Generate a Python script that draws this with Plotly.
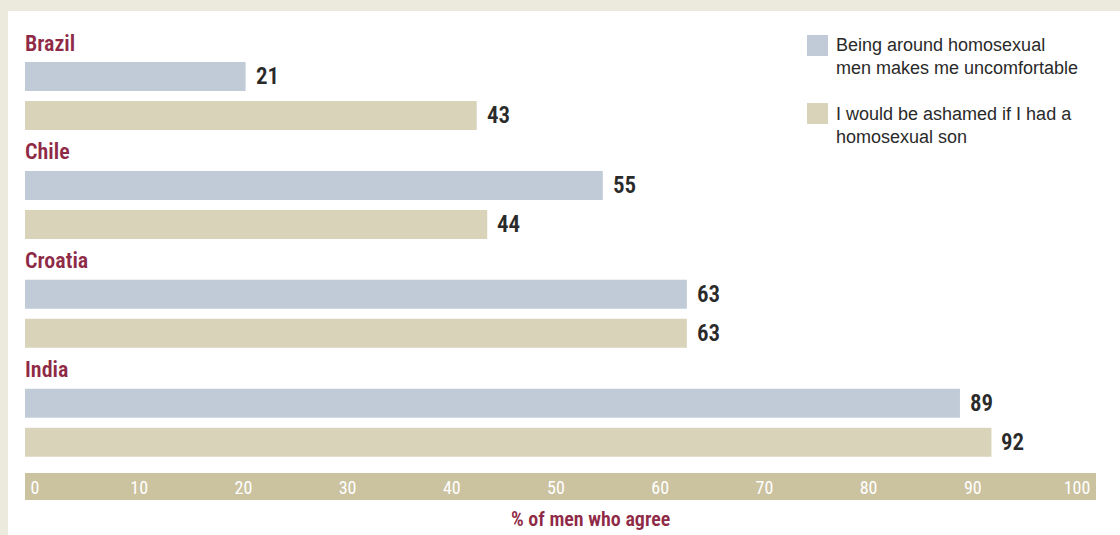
import plotly.graph_objects as go

# Survey data: share of men who agree with each statement (%)
countries = ["Brazil", "Chile", "Croatia", "India"]
uncomfortable = [21, 55, 63, 89]
ashamed_son = [43, 44, 63, 92]
series_names = [
    "Being around homosexual<br>men makes me uncomfortable",
    "I would be ashamed if I had a<br>homosexual son",
]
tick_values = [0, 10, 20, 30, 40, 50, 60, 70, 80, 90, 100]
axis_title = "% of men who agree"

# Styling
W, H = 1120, 535
ML, MR, MT, MB = 25, 24, 30, 62
PW, PH = W - ML - MR, H - MT - MB
CREAM = "#ECE9DD"
BLUE = "#C0CBD7"
TAN = "#D9D3BA"
BAND = "#CBC2A0"
RED = "#8F2A46"
INK = "#2A2A2A"
COND = "Roboto Condensed, Open Sans Condensed, sans-serif"
SANS = "Liberation Sans, Arial, Helvetica, sans-serif"


def px_x(p):
    return (p - ML) / PW


def px_y(p):
    return (H - MB - p) / PH


fig = go.Figure()
fig.add_trace(go.Bar(y=countries, x=uncomfortable, orientation="h",
                     marker=dict(color=BLUE, line=dict(width=0)),
                     name=series_names[0], hoverinfo="x+y"))
fig.add_trace(go.Bar(y=countries, x=ashamed_son, orientation="h",
                     marker=dict(color=TAN, line=dict(width=0)),
                     name=series_names[1], hoverinfo="x+y"))
# invisible trace that carries the tick-label scale of the bottom band
fig.add_trace(go.Scatter(x=[tick_values[0], tick_values[-1]], y=[countries[0], countries[0]],
                         xaxis="x2", mode="markers", marker=dict(opacity=0),
                         showlegend=False, hoverinfo="skip"))

annotations = []
# country headings
for c in countries:
    annotations.append(dict(x=0, y=c, xref="x", yref="y", text=c, showarrow=False,
                            xanchor="left", yanchor="middle", xshift=-2, yshift=53,
                            font=dict(family=COND, size=22, color=RED, weight=600)))
# value labels
for vals, shift in ((uncomfortable, 19.5), (ashamed_son, -19.5)):
    for c, v in zip(countries, vals):
        annotations.append(dict(x=v, y=c, xref="x", yref="y", text=str(v), showarrow=False,
                                xanchor="left", yanchor="middle", xshift=8, yshift=shift,
                                font=dict(family=COND, size=23, color=INK, weight=600)))
# legend
legend_rows = [(series_names[0], BLUE, 35, 57), (series_names[1], TAN, 103, 125.5)]
shapes = [
    dict(type="rect", xref="paper", yref="paper", x0=px_x(8), x1=px_x(W + 20),
         y0=px_y(H + 20), y1=px_y(11), fillcolor="white", line=dict(width=0), layer="below"),
    dict(type="rect", xref="paper", yref="paper", x0=0, x1=1, y0=px_y(500), y1=px_y(473),
         fillcolor=BAND, line=dict(width=0), layer="below"),
]
for label, color, top, mid in legend_rows:
    shapes.append(dict(type="rect", xref="paper", yref="paper", x0=px_x(807), x1=px_x(828),
                       y0=px_y(top + 21), y1=px_y(top), fillcolor=color, line=dict(width=0)))
    annotations.append(dict(x=px_x(834), y=px_y(mid), xref="paper", yref="paper", text=label,
                            showarrow=False, xanchor="left", yanchor="middle", align="left",
                            font=dict(family=SANS, size=18, color=INK)))
# axis title
annotations.append(dict(x=px_x(590), y=px_y(519), xref="paper", yref="paper", text=axis_title,
                        showarrow=False, xanchor="center", yanchor="middle",
                        font=dict(family=COND, size=20, color=RED, weight=600)))

fig.update_layout(
    width=W, height=H,
    margin=dict(l=ML, r=MR, t=MT, b=MB, pad=0),
    paper_bgcolor=CREAM, plot_bgcolor="rgba(0,0,0,0)",
    barmode="group", bargap=0.284, bargroupgap=0.256,
    showlegend=False,
    xaxis=dict(range=[0, PW / 10.505], showgrid=False, zeroline=False,
               showticklabels=False, ticks="", showline=False, fixedrange=True),
    xaxis2=dict(overlaying="x", side="bottom", anchor="y",
                range=[-10 / 10.42, (PW - 10) / 10.42],
                tickmode="array", tickvals=tick_values, ticktext=[str(t) for t in tick_values],
                showgrid=False, zeroline=False, showline=False, ticks="",
                ticklabelstandoff=2,
                tickfont=dict(family=COND, size=18, color="white"), fixedrange=True),
    yaxis=dict(type="category", categoryorder="array", categoryarray=countries,
               range=[3 + (473 - 422.7) / 108.9, -(96 - 30) / 108.9],
               showticklabels=False, showgrid=False, zeroline=False, ticks="",
               showline=False, fixedrange=True),
    shapes=shapes,
    annotations=annotations,
)

fig.write_html("out.html")
